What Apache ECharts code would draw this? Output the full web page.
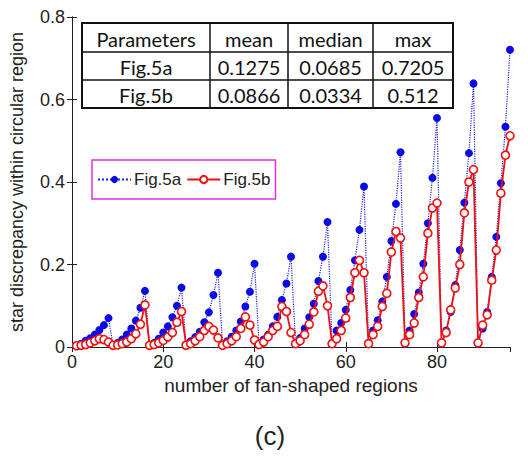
<!DOCTYPE html>
<html><head><meta charset="utf-8">
<script src="https://cdn.jsdelivr.net/npm/echarts@6/dist/echarts.min.js"></script>
<style>html,body{margin:0;padding:0;background:#fff}#c{width:528px;height:463px}</style>
</head><body><div id="c"></div>
<script>
const xValues = [1,2,3,4,5,6,7,8,9,10,11,12,13,14,15,16,17,18,19,20,21,22,23,24,25,26,27,28,29,30,31,32,33,34,35,36,37,38,39,40,41,42,43,44,45,46,47,48,49,50,51,52,53,54,55,56,57,58,59,60,61,62,63,64,65,66,67,68,69,70,71,72,73,74,75,76,77,78,79,80,81,82,83,84,85,86,87,88,89,90,91,92,93,94,95,96];
const fig5a = [
  0.003,0.008,0.015,0.021,0.030,0.041,0.053,0.070,
  0.004,0.010,0.018,0.030,0.045,0.064,0.095,0.136,
  0.004,0.010,0.020,0.035,0.050,0.072,0.100,0.144,
  0.006,0.014,0.024,0.037,0.060,0.084,0.126,0.180,
  0.006,0.014,0.025,0.040,0.062,0.098,0.134,0.202,
  0.008,0.018,0.030,0.050,0.073,0.114,0.154,0.219,
  0.008,0.022,0.045,0.072,0.105,0.160,0.219,0.303,
  0.008,0.040,0.058,0.090,0.138,0.210,0.284,0.389,
  0.008,0.040,0.065,0.110,0.170,0.257,0.347,0.472,
  0.008,0.040,0.080,0.132,0.202,0.300,0.410,0.555,
  0.008,0.040,0.085,0.150,0.235,0.350,0.470,0.639,
  0.008,0.045,0.085,0.170,0.267,0.397,0.534,0.7205];
const fig5b = [
  0.003,0.004,0.006,0.010,0.015,0.020,0.018,0.012,
  0.004,0.005,0.008,0.012,0.020,0.032,0.055,0.102,
  0.004,0.006,0.010,0.016,0.024,0.035,0.060,0.086,
  0.004,0.008,0.015,0.025,0.040,0.050,0.041,0.022,
  0.004,0.008,0.015,0.025,0.045,0.073,0.053,0.017,
  0.006,0.012,0.025,0.040,0.050,0.098,0.086,0.035,
  0.008,0.015,0.030,0.055,0.085,0.135,0.148,0.100,
  0.008,0.020,0.040,0.070,0.120,0.180,0.210,0.180,
  0.008,0.030,0.050,0.098,0.130,0.230,0.280,0.264,
  0.010,0.030,0.058,0.120,0.170,0.276,0.337,0.349,
  0.010,0.035,0.090,0.143,0.200,0.325,0.400,0.430,
  0.010,0.053,0.078,0.162,0.235,0.373,0.465,0.512];
const seriesNames = ['Fig.5a','Fig.5b'];
const tableHeader = ['Parameters','mean','median','max'];
const tableRows = [
  ['Fig.5a','0.1275','0.0685','0.7205'],
  ['Fig.5b','0.0866','0.0334','0.512']
];
const xLabel = 'number of fan-shaped regions';
const yLabel = 'star discrepancy within circular region';
const caption = '(c)';

const chart = echarts.init(document.getElementById('c'), null, {renderer:'svg'});
const pts = arr => xValues.map((x,i)=>[x,arr[i]]);

// table graphic
const colEdges = [82,210,288,373,453];
const rowEdges = [23,52,80,108];
const allRows = [tableHeader].concat(tableRows);
const tableEls = [];
tableEls.push({type:'rect', shape:{x:colEdges[0],y:rowEdges[0],width:colEdges[4]-colEdges[0],height:rowEdges[3]-rowEdges[0]}, style:{fill:'#fff',stroke:'#111',lineWidth:2}});
for (let c=1;c<4;c++) tableEls.push({type:'line', shape:{x1:colEdges[c],y1:rowEdges[0],x2:colEdges[c],y2:rowEdges[3]}, style:{stroke:'#111',lineWidth:1.5}});
for (let r=1;r<3;r++) tableEls.push({type:'line', shape:{x1:colEdges[0],y1:rowEdges[r],x2:colEdges[4],y2:rowEdges[r]}, style:{stroke:'#111',lineWidth:1.5}});
allRows.forEach((row,r)=>row.forEach((t,c)=>{
  tableEls.push({type:'text', x:(colEdges[c]+colEdges[c+1])/2, y:(rowEdges[r]+rowEdges[r+1])/2+1,
    style:{text:t, fill:'#111', font:'20px Lato', align:'center', verticalAlign:'middle'}});
}));

const axisCommon = {
  axisLine:{show:true, lineStyle:{color:'#222',width:1}},
  axisTick:{show:true, inside:true, length:5, lineStyle:{color:'#222'}},
  splitLine:{show:false}
};
chart.setOption({
  animation:false,
  backgroundColor:'#fff',
  grid:{left:70, right:18, top:17, bottom:116},
  xAxis:[
    Object.assign({type:'value', min:0, max:96, interval:20, position:'bottom',
      name:xLabel, nameLocation:'middle', nameGap:26,
      nameTextStyle:{fontSize:19, color:'#222', fontFamily:'Liberation Sans'},
      axisLabel:{fontSize:18, color:'#222', fontFamily:'Liberation Sans', margin:6, showMaxLabel:false}}, axisCommon),
    Object.assign({type:'value', min:0, max:96, interval:20, position:'top', axisLabel:{show:false}}, axisCommon)
  ],
  yAxis:[
    Object.assign({type:'value', min:0, max:0.8, interval:0.2, position:'left',
      name:yLabel, nameLocation:'middle', nameGap:46,
      nameTextStyle:{fontSize:18, color:'#222', fontFamily:'Liberation Sans'},
      axisLabel:{fontSize:18, color:'#222', fontFamily:'Liberation Sans', margin:7}}, axisCommon),
    Object.assign({type:'value', min:0, max:0.8, interval:0.2, position:'right', axisLabel:{show:false}}, axisCommon)
  ],
  legend:{
    left:92, top:160, orient:'horizontal',
    padding:[11,5,11,5], itemGap:5, itemWidth:33, itemHeight:9,
    borderColor:'#e030e0', borderWidth:1.5, backgroundColor:'#fff',
    textStyle:{fontSize:17, color:'#222', fontFamily:'Liberation Sans', padding:[0,0,0,-2]},
    data:seriesNames
  },
  series:[
    {name:seriesNames[0], type:'line', data:pts(fig5a), symbol:'circle', symbolSize:8,
      itemStyle:{color:'#0a0ae8'}, lineStyle:{color:'#2020e0', width:1.2, type:'dotted'}, z:2},
    {name:seriesNames[1], type:'line', data:pts(fig5b), symbol:'circle', symbolSize:8,
      itemStyle:{color:'#fff', borderColor:'#ee1111', borderWidth:1.6}, lineStyle:{color:'#ee1111', width:1.8}, z:3}
  ],
  graphic:[
    {type:'group', children:tableEls, z:100},
    {type:'text', x:270, y:436, style:{text:caption, font:'26px Liberation Sans', fill:'#222', align:'center', verticalAlign:'middle'}}
  ]
});
</script></body></html>
